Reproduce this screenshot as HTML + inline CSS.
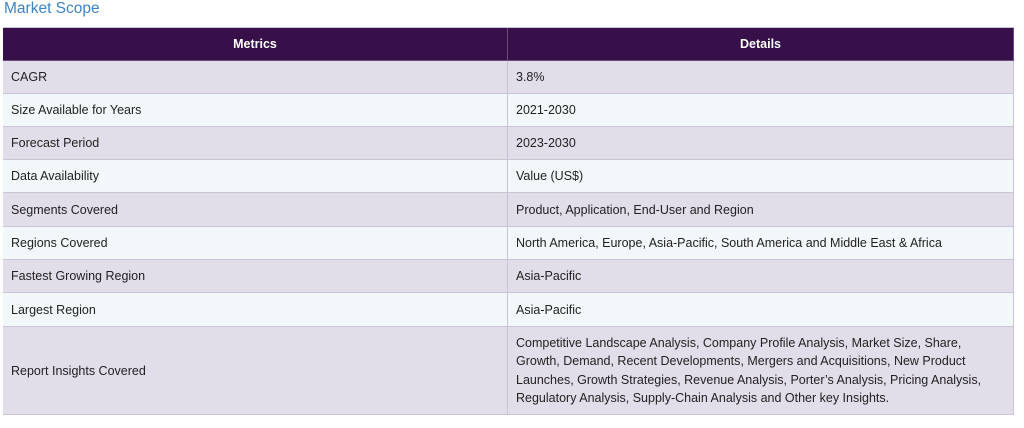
<!DOCTYPE html>
<html><head><meta charset="utf-8"><style>
body{margin:0;width:1024px;height:428px;background:#fff;font-family:"Liberation Sans",sans-serif;position:relative;overflow:hidden}
.t{position:absolute;left:4px;top:0px;font-size:15.5px;color:#3d84c4}
.c{position:absolute;box-sizing:border-box;border-right:1px solid #c9c5d6;border-bottom:1px solid #c9c5d6;font-size:12.5px;color:#222;display:flex;align-items:center;padding-left:8px}
.h{background:#37104a;color:#fff;font-weight:bold;justify-content:center;padding-left:0;font-size:12.5px;border-color:#6a4d7a}
.o{background:#e1dde9}.e{background:#f2f7fa}
</style></head><body>
<div class="t">Market Scope</div>
<div style="position:absolute;left:3px;top:27px;width:1011px;height:388px;border-left:1px solid #c9c5d6;border-top:1px solid #c9c5d6;box-sizing:border-box"></div>
<div id="tb"></div>
<script>
const rows=[["Metrics","Details"],["CAGR","3.8%"],["Size Available for Years","2021-2030"],["Forecast Period","2023-2030"],["Data Availability","Value (US$)"],["Segments Covered","Product, Application, End-User and Region"],["Regions Covered","North America, Europe, Asia-Pacific, South America and Middle East &amp; Africa"],["Fastest Growing Region","Asia-Pacific"],["Largest Region","Asia-Pacific"],["Report Insights Covered","Competitive Landscape Analysis, Company Profile Analysis, Market Size, Share,<br>Growth, Demand, Recent Developments, Mergers and Acquisitions, New Product<br>Launches, Growth Strategies, Revenue Analysis, Porter’s Analysis, Pricing Analysis,<br>Regulatory Analysis, Supply-Chain Analysis and Other key Insights."]];
const tops=[28,61,94,127,160,193,227,260,293,327,415];
const tb=document.getElementById('tb');
rows.forEach((r,i)=>{
 [0,1].forEach(j=>{
  const d=document.createElement('div');
  d.className='c '+(i==0?'h':(i%2?'o':'e'));
  d.style.left=(j?508:3)+'px';d.style.width=(j?506:505)+'px';
  d.style.top=tops[i]+'px';d.style.height=(tops[i+1]-tops[i])+'px';
  if(i==9&&j==1){d.style.lineHeight='18.5px';}
  d.innerHTML=r[j];
  
  
  tb.appendChild(d);
 });
});
</script>
</body></html>
